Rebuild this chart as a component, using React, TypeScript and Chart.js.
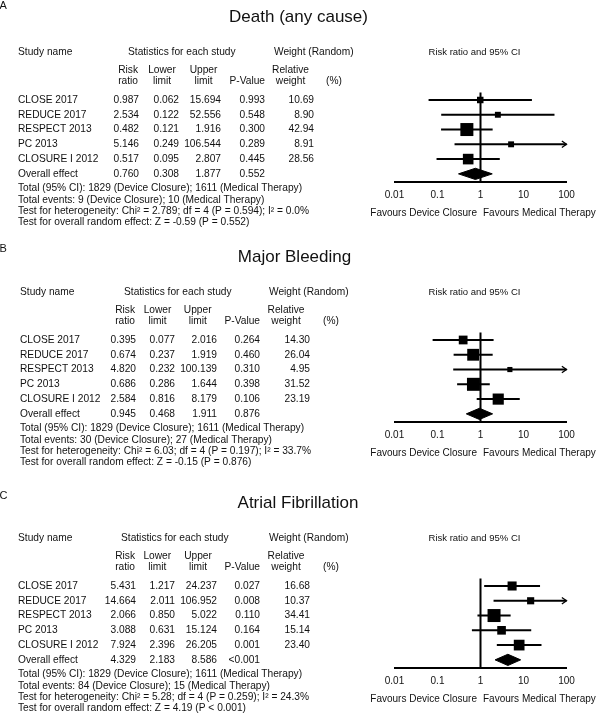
import React, { useEffect, useRef } from "react";
import { Chart, registerables } from "chart.js";

Chart.register(...registerables);

// ---------------- data ----------------
const STUDY_NAMES = ["CLOSE 2017", "REDUCE 2017", "RESPECT 2013", "PC 2013", "CLOSURE I 2012"];
const X_TICKS = [0.01, 0.1, 1, 10, 100];

// A: Death (any cause)
const DEATH_RR = [0.987, 2.534, 0.482, 5.146, 0.517];
const DEATH_LOWER = [0.062, 0.122, 0.121, 0.249, 0.095];
const DEATH_UPPER = [15.694, 52.556, 1.916, 106.544, 2.807];
const DEATH_P = ["0.993", "0.548", "0.300", "0.289", "0.445"];
const DEATH_WEIGHT = [10.69, 8.9, 42.94, 8.91, 28.56];
const DEATH_OVERALL = [0.76, 0.308, 1.877];
const DEATH_OVERALL_P = "0.552";
const DEATH_NOTES = [
  "Total (95% CI): 1829 (Device Closure); 1611 (Medical Therapy)",
  "Total events: 9 (Device Closure); 10 (Medical Therapy)",
  "Test for heterogeneity: Chi\u00b2 = 2.789; df = 4 (P = 0.594); I\u00b2 = 0.0%",
  "Test for overall random effect: Z = -0.59 (P = 0.552)",
];

// B: Major Bleeding
const BLEED_RR = [0.395, 0.674, 4.82, 0.686, 2.584];
const BLEED_LOWER = [0.077, 0.237, 0.232, 0.286, 0.816];
const BLEED_UPPER = [2.016, 1.919, 100.139, 1.644, 8.179];
const BLEED_P = ["0.264", "0.460", "0.310", "0.398", "0.106"];
const BLEED_WEIGHT = [14.3, 26.04, 4.95, 31.52, 23.19];
const BLEED_OVERALL = [0.945, 0.468, 1.911];
const BLEED_OVERALL_P = "0.876";
const BLEED_NOTES = [
  "Total (95% CI): 1829 (Device Closure); 1611 (Medical Therapy)",
  "Total events: 30 (Device Closure); 27 (Medical Therapy)",
  "Test for heterogeneity: Chi\u00b2 = 6.03; df = 4 (P = 0.197); I\u00b2 = 33.7%",
  "Test for overall random effect: Z = -0.15 (P = 0.876)",
];

// C: Atrial Fibrillation
const AF_RR = [5.431, 14.664, 2.066, 3.088, 7.924];
const AF_LOWER = [1.217, 2.011, 0.85, 0.631, 2.396];
const AF_UPPER = [24.237, 106.952, 5.022, 15.124, 26.205];
const AF_P = ["0.027", "0.008", "0.110", "0.164", "0.001"];
const AF_WEIGHT = [16.68, 10.37, 34.41, 15.14, 23.4];
const AF_OVERALL = [4.329, 2.183, 8.586];
const AF_OVERALL_P = "<0.001";
const AF_NOTES = [
  "Total (95% CI): 1829 (Device Closure); 1611 (Medical Therapy)",
  "Total events: 84 (Device Closure); 15 (Medical Therapy)",
  "Test for heterogeneity: Chi\u00b2 = 5.28; df = 4 (P = 0.259); I\u00b2 = 24.3%",
  "Test for overall random effect: Z = 4.19 (P < 0.001)",
];

// ---------------- styling / layout ----------------
const FONT = '"Liberation Sans", Arial, Helvetica, sans-serif';
const INK = "#111";
const TXT = 10.2;
const X_MIN = 0.01;
const X_MAX = 100;
const ARROW_BACK = 0.78;
const ARROW_HALF = 0.22;
const DIAMOND_HALF = 0.38;
const MAX_SQUARE = 13;

const ROW_TITLE = -5.58;
const ROW_HEAD = -3.25;
const ROW_SUB1 = -2.03;
const ROW_SUB2 = -1.28;
const ROW_NOTES = [6.0, 6.76, 7.53, 8.28];
const ROW_FAVOURS = 7.67;

type Cols = {
  name: number; rr: number; lo: number; up: number; p: number; w: number;
  stats: number; weight: number; pct: number; loH: number; upH: number; relH: number; titleX: number;
  letterRow: number;
};

type Panel = {
  letter: string; title: string;
  rr: number[]; lower: number[]; upper: number[]; p: string[]; weight: number[];
  overall: number[]; overallP: string; notes: string[]; cols: Cols; top: number;
};

const PANELS: Panel[] = [
  {
    letter: "A", title: "Death (any cause)",
    rr: DEATH_RR, lower: DEATH_LOWER, upper: DEATH_UPPER, p: DEATH_P, weight: DEATH_WEIGHT,
    overall: DEATH_OVERALL, overallP: DEATH_OVERALL_P, notes: DEATH_NOTES, top: 0,
    cols: { name: 18, rr: 139, lo: 179, up: 221, p: 265, w: 314, stats: 128, weight: 274, pct: 326, loH: 162, upH: 203.5, relH: 290.5, titleX: 298.5, letterRow: -6.35 },
  },
  {
    letter: "B", title: "Major Bleeding",
    rr: BLEED_RR, lower: BLEED_LOWER, upper: BLEED_UPPER, p: BLEED_P, weight: BLEED_WEIGHT,
    overall: BLEED_OVERALL, overallP: BLEED_OVERALL_P, notes: BLEED_NOTES, top: 240,
    cols: { name: 20, rr: 136, lo: 175, up: 217, p: 260, w: 310, stats: 124, weight: 269, pct: 323, loH: 157.5, upH: 197.7, relH: 286, titleX: 294.5, letterRow: -6.15 },
  },
  {
    letter: "C", title: "Atrial Fibrillation",
    rr: AF_RR, lower: AF_LOWER, upper: AF_UPPER, p: AF_P, weight: AF_WEIGHT,
    overall: AF_OVERALL, overallP: AF_OVERALL_P, notes: AF_NOTES, top: 486,
    cols: { name: 18, rr: 136, lo: 175, up: 217, p: 260, w: 310, stats: 121, weight: 269, pct: 323, loH: 157.3, upH: 198, relH: 286, titleX: 298, letterRow: -6.1 },
  },
];

function textPlugin(panel: Panel) {
  return {
    id: "forestText",
    afterDraw(chart: any) {
      const ctx: CanvasRenderingContext2D = chart.ctx;
      const ys = chart.scales.y;
      const xs = chart.scales.x;
      const Y = (v: number) => ys.getPixelForValue(v);
      const one = xs.getPixelForValue(1);
      const c = panel.cols;
      ctx.save();
      ctx.fillStyle = INK;
      ctx.textBaseline = "middle";
      const put = (t: string, px: number, py: number, align: CanvasTextAlign = "left", size = TXT) => {
        ctx.font = `${size}px ${FONT}`;
        ctx.textAlign = align;
        ctx.fillText(t, px, py);
      };
      put(panel.letter, -0.5, Y(c.letterRow), "left", 11);
      put(panel.title, c.titleX, Y(ROW_TITLE), "center", 17);
      put("Study name", c.name, Y(ROW_HEAD));
      put("Statistics for each study", c.stats, Y(ROW_HEAD));
      put("Weight (Random)", c.weight, Y(ROW_HEAD));
      put("Risk ratio and 95% CI", one - 6, Y(ROW_HEAD), "center", 9.5);
      put("Risk", c.rr - 1, Y(ROW_SUB1), "right");
      put("ratio", c.rr - 1, Y(ROW_SUB2), "right");
      put("Lower", c.loH, Y(ROW_SUB1), "center");
      put("limit", c.loH, Y(ROW_SUB2), "center");
      put("Upper", c.upH, Y(ROW_SUB1), "center");
      put("limit", c.upH, Y(ROW_SUB2), "center");
      put("P-Value", c.p, Y(ROW_SUB2), "right");
      put("Relative", c.relH, Y(ROW_SUB1), "center");
      put("weight", c.relH, Y(ROW_SUB2), "center");
      put("(%)", c.pct, Y(ROW_SUB2));
      STUDY_NAMES.forEach((name, i) => {
        const yy = Y(i);
        put(name, c.name, yy);
        put(panel.rr[i].toFixed(3), c.rr, yy, "right");
        put(panel.lower[i].toFixed(3), c.lo, yy, "right");
        put(panel.upper[i].toFixed(3), c.up, yy, "right");
        put(panel.p[i], c.p, yy, "right");
        put(panel.weight[i].toFixed(2), c.w, yy, "right");
      });
      const yo = Y(STUDY_NAMES.length);
      put("Overall effect", c.name, yo);
      put(panel.overall[0].toFixed(3), c.rr, yo, "right");
      put(panel.overall[1].toFixed(3), c.lo, yo, "right");
      put(panel.overall[2].toFixed(3), c.up, yo, "right");
      put(panel.overallP, c.p, yo, "right");
      panel.notes.forEach((n, i) => put(n, c.name, Y(ROW_NOTES[i])));
      put("Favours Device Closure", one - 3.5, Y(ROW_FAVOURS), "right", 10);
      put("Favours Medical Therapy", one + 2.5, Y(ROW_FAVOURS), "left", 10);
      ctx.restore();
    },
  };
}

function buildDatasets(panel: Panel) {
  const ds: any[] = [];
  const n = STUDY_NAMES.length;
  // reference line at RR = 1
  ds.push({
    data: [{ x: 1, y: -0.5 }, { x: 1, y: n + 0.55 }],
    borderColor: "#000", borderWidth: 2, pointRadius: 0, fill: false, clip: false,
  });
  // confidence intervals
  STUDY_NAMES.forEach((_, i) => {
    ds.push({
      data: [{ x: panel.lower[i], y: i }, { x: Math.min(panel.upper[i], X_MAX), y: i }],
      borderColor: "#000", borderWidth: 2, pointRadius: 0, fill: false, clip: false,
    });
    if (panel.upper[i] > X_MAX) {
      ds.push({
        data: [
          { x: X_MAX * ARROW_BACK, y: i - ARROW_HALF },
          { x: X_MAX, y: i },
          { x: X_MAX * ARROW_BACK, y: i + ARROW_HALF },
        ],
        borderColor: "#000", borderWidth: 1.3, pointRadius: 0, fill: false, clip: false,
      });
    }
  });
  // squares sized by weight
  const maxW = Math.max(...panel.weight);
  ds.push({
    data: panel.rr.map((v, i) => ({ x: v, y: i })),
    showLine: false,
    pointStyle: "rect",
    pointRadius: panel.weight.map((w) => (MAX_SQUARE * Math.sqrt(w / maxW)) / (2 * Math.SQRT1_2)),
    pointBackgroundColor: "#000",
    pointBorderWidth: 0,
    borderWidth: 0,
    clip: false,
  });
  // overall diamond
  const [o, lo, hi] = panel.overall;
  ds.push({
    data: [
      { x: lo, y: n },
      { x: o, y: n - DIAMOND_HALF },
      { x: hi, y: n },
      { x: o, y: n + DIAMOND_HALF },
      { x: lo, y: n },
    ],
    borderColor: "#000", borderWidth: 1, backgroundColor: "#000",
    fill: "shape", pointRadius: 0, clip: false,
  });
  return ds;
}

function ForestPanel({ panel }: { panel: Panel }) {
  const ref = useRef<HTMLCanvasElement>(null);
  useEffect(() => {
    if (!ref.current) return;
    const chart = new Chart(ref.current, {
      type: "line",
      data: { datasets: buildDatasets(panel) },
      options: {
        responsive: false,
        animation: false,
        events: [],
        layout: { padding: { left: 394.5, right: 33.5, top: 92.6, bottom: 32 } },
        plugins: { legend: { display: false }, tooltip: { enabled: false }, title: { display: false } },
        elements: { line: { tension: 0 } },
        scales: {
          x: {
            type: "logarithmic",
            min: X_MIN,
            max: X_MAX,
            grid: { display: false, drawTicks: false, tickLength: 0 },
            border: { display: true, color: "#000", width: 2 },
            ticks: {
              font: { size: 10, family: FONT },
              color: INK,
              padding: 7,
              autoSkip: false,
              maxRotation: 0,
              callback: (v: any) => String(v),
            },
            afterBuildTicks: (s: any) => {
              s.ticks = X_TICKS.map((v) => ({ value: v }));
            },
          },
          y: { type: "linear", display: false, min: -0.5, max: STUDY_NAMES.length + 0.55, reverse: true },
        },
      } as any,
      plugins: [textPlugin(panel)],
    });
    return () => chart.destroy();
  }, [panel]);
  return (
    <canvas
      ref={ref}
      width={600}
      height={240}
      style={{ position: "absolute", left: 0, top: panel.top, display: "block" }}
    />
  );
}

export default function App() {
  return (
    <div style={{ position: "absolute", left: 0, top: 0, width: 600, height: 715, overflow: "hidden", background: "#fff" }}>
      {PANELS.map((p) => (
        <ForestPanel key={p.letter} panel={p} />
      ))}
    </div>
  );
}
